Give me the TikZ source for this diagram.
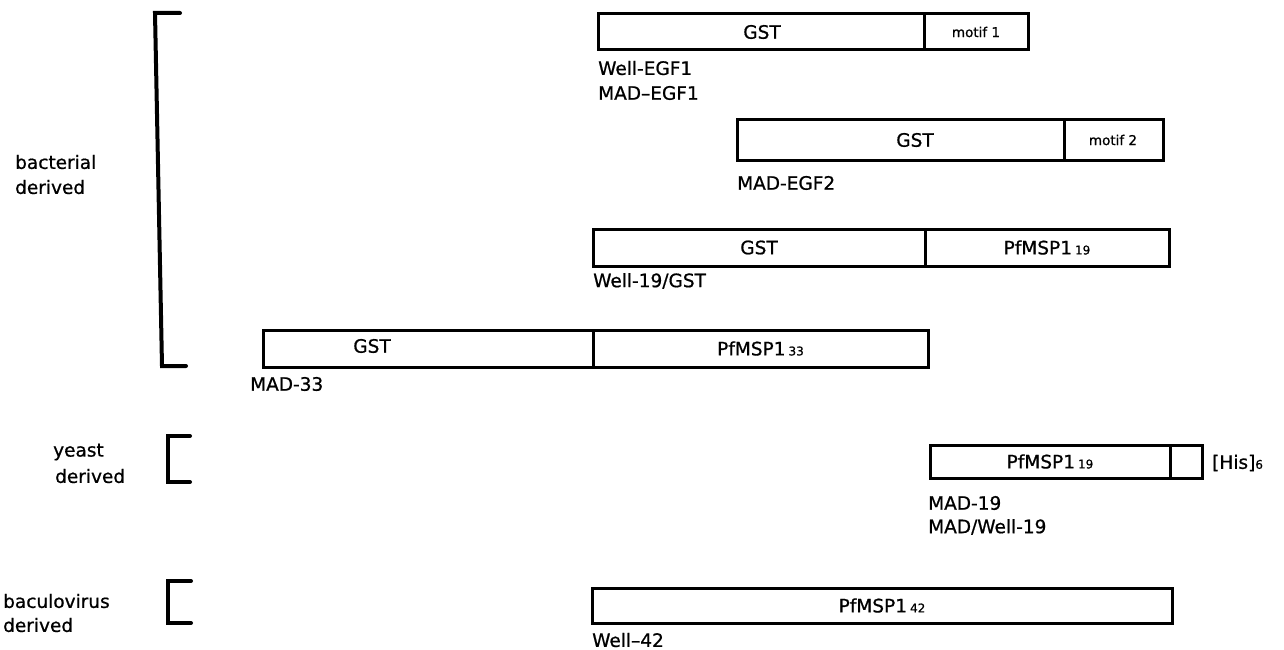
\documentclass[tikz,border=0pt]{standalone}
\usepackage{fontspec}
\setmainfont[FakeBold=0.8,AutoFakeBold=0.8]{DejaVu Sans}
\newcommand\subn[1]{{\fontsize{12}{12}\selectfont #1}}
\begin{document}
\begin{tikzpicture}[x=1pt,y=-1pt,
  seg/.style={draw,line width=3pt,inner sep=0pt,font=\fontsize{18.5}{20}\selectfont},
  lbl/.style={anchor=west,inner sep=0pt,font=\fontsize{18.5}{20}\selectfont},
  small/.style={inner sep=0pt,font=\fontsize{13.5}{15}\selectfont},
  bracket/.style={line width=4pt,line cap=round,line join=miter}]
\useasboundingbox (0,0) rectangle (1284,650);
% row 1
\node[seg,minimum width=326,minimum height=36] (r1a) at (761,32) {};
\node[seg,minimum width=104,minimum height=36] (r1b) at (976,32) {};
\node[inner sep=0pt,font=\fontsize{18.5}{20}\selectfont] (t1a) at (762,32) {GST};
\node[small] (t1b) at (976,32) {motif 1};
\node[lbl] (l1a) at (598,68) {Well-EGF1};
\node[lbl] (l1b) at (598,93) {MAD–EGF1};
% row 2
\node[seg,minimum width=327,minimum height=40] (r2a) at (900.5,140) {};
\node[seg,minimum width=99,minimum height=40] (r2b) at (1113.5,140) {};
\node[inner sep=0pt,font=\fontsize{18.5}{20}\selectfont] (t2a) at (915,140) {GST};
\node[small] (t2b) at (1113,140) {motif 2};
\node[lbl] (l2a) at (737,183) {MAD-EGF2};
% row 3
\node[seg,minimum width=332,minimum height=37] (r3a) at (759,247.5) {GST};
\node[seg,minimum width=244,minimum height=37] (r3b) at (1047,247.5) {PfMSP1\,\subn{19}};
\node[lbl] (l3a) at (593,281) {Well-19/GST};
% row 4
\node[seg,minimum width=330,minimum height=37] (r4a) at (428,348.5) {};
\node[inner sep=0pt,font=\fontsize{18.5}{20}\selectfont] (t4a) at (372,346) {GST};
\node[seg,minimum width=335,minimum height=37] (r4b) at (760.5,348.5) {PfMSP1\,\subn{33}};
\node[lbl] (l4a) at (250,384) {MAD-33};
% yeast
\node[seg,minimum width=240,minimum height=33] (r5a) at (1050,461.5) {PfMSP1\,\subn{19}};
\node[seg,minimum width=32,minimum height=33] (r5b) at (1186,461.5) {};
\node[lbl] (his) at (1212,463) {[His]\subn{6}};
\node[lbl] (l5a) at (928,503) {MAD-19};
\node[lbl] (l5b) at (928,527) {MAD/Well-19};
% baculovirus
\node[seg,minimum width=580,minimum height=35] (r6a) at (882,605.5) {PfMSP1\,\subn{42}};
\node[lbl] (l6a) at (592,640) {Well–42};
% brackets and group labels
\draw[bracket] (180,13) -- (155,13) -- (162,366) -- (186,366);
\node[lbl] (g1a) at (15,162) {bacterial};
\node[lbl] (g1b) at (15,187) {derived};
\draw[bracket] (190,436) -- (168,436) -- (168,482) -- (190,482);
\node[lbl] (g2a) at (53,452) {yeast};
\node[lbl] (g2b) at (55,476) {derived};
\draw[bracket] (191,581) -- (168,581) -- (168,623) -- (191,623);
\node[lbl] (g3a) at (3,601) {baculovirus};
\node[lbl] (g3b) at (3,625) {derived};
\end{tikzpicture}
\end{document}
